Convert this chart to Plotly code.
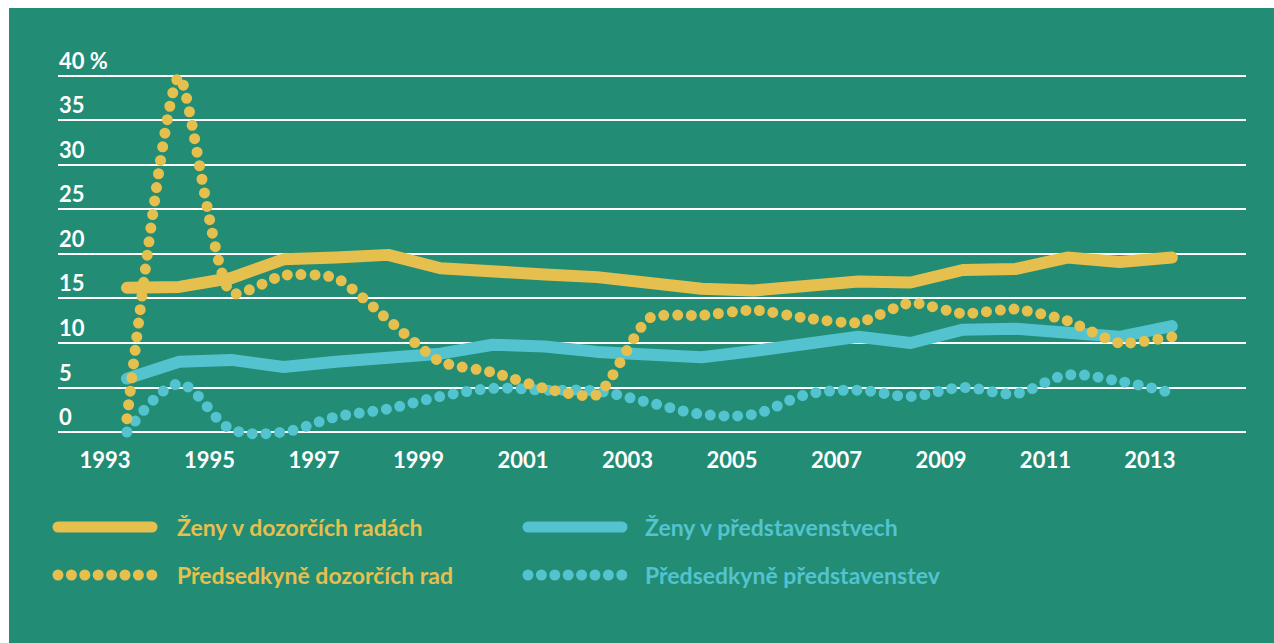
import plotly.graph_objects as go

# ---------------- data ----------------
years = list(range(1993, 2014))
zeny_dozorci = [16.2, 16.3, 17.3, 19.4, 19.6, 19.9, 18.4, 17.9, 17.7, 17.4, 16.8,
                16.1, 15.9, 16.4, 16.9, 16.8, 18.2, 18.3, 19.6, 19.1, 19.6]
zeny_predstav = [6.0, 7.9, 8.1, 7.3, 7.9, 8.4, 8.8, 9.8, 9.6, 9.0, 8.7,
                 8.4, 9.1, 9.8, 10.7, 10.0, 11.5, 11.6, 11.2, 10.7, 11.9]
predsedkyne_dozorci = [1.5, 39.9, 15.6, 17.6, 17.3, 12.6, 7.9, 6.7, 4.9, 4.2, 12.8,
                       13.1, 13.7, 12.8, 12.3, 14.5, 13.3, 13.8, 12.5, 10.0, 10.7]
predsedkyne_predstav = [0.0, 5.4, 0.3, 0.0, 1.7, 2.6, 4.0, 4.9, 4.7, 4.6, 3.3,
                        2.0, 2.0, 4.2, 4.7, 4.0, 5.0, 4.3, 6.4, 5.7, 4.4]
x_label_years = list(range(1993, 2014, 2))
y_ticks = [0, 5, 10, 15, 20, 25, 30, 35, 40]
y_tick_labels = ["0", "5", "10", "15", "20", "25", "30", "35", "40 %"]
legend_names = ["Ženy v dozorčích radách", "Předsedkyně dozorčích rad",
                "Ženy v představenstvech", "Předsedkyně představenstev"]

# ---------------- style ----------------
W, H = 1274, 643
GREEN = "#228C75"
YELLOW = "#E5C04F"
CYAN = "#53C3CF"
FONT = "Lato"
LABEL_OFFSET = 0.42  # year labels sit slightly left of the yearly points
DOT_DASH = "0px,13.7px"


def fx(p):
    return p / W


def fy(p):
    return 1 - p / H


fig = go.Figure()
fig.add_trace(go.Scatter(x=years, y=zeny_dozorci, mode="lines", name=legend_names[0],
                         line=dict(color=YELLOW, width=12)))
fig.add_trace(go.Scatter(x=years, y=zeny_predstav, mode="lines", name=legend_names[2],
                         line=dict(color=CYAN, width=12)))
fig.add_trace(go.Scatter(x=years, y=predsedkyne_predstav, mode="lines", name=legend_names[3],
                         line=dict(color=CYAN, width=11, dash=DOT_DASH, shape="spline", smoothing=1.0)))
fig.add_trace(go.Scatter(x=years, y=predsedkyne_dozorci, mode="lines", name=legend_names[1],
                         line=dict(color=YELLOW, width=11, dash=DOT_DASH, shape="spline", smoothing=0.6)))

annotations = []
for v, t in zip(y_ticks, y_tick_labels):
    annotations.append(dict(x=fx(57), xref="paper", xanchor="left", y=v, yref="y",
                            yanchor="bottom", yshift=0, text=t, showarrow=False,
                            font=dict(family=FONT, size=22, color="white", weight="bold")))

shapes = [
    dict(type="rect", xref="paper", yref="paper", x0=0, x1=1, y0=fy(8), y1=1,
         fillcolor="white", line=dict(width=0)),
    dict(type="rect", xref="paper", yref="paper", x0=0, x1=fx(9), y0=0, y1=1,
         fillcolor="white", line=dict(width=0)),
]

legend_rows = [(legend_names[0], YELLOW, "solid", 58, 175, 527),
               (legend_names[1], YELLOW, "dot", 58, 175, 575),
               (legend_names[2], CYAN, "solid", 528, 643, 527),
               (legend_names[3], CYAN, "dot", 528, 643, 575)]
for name, col, kind, lx, tx, py in legend_rows:
    if kind == "solid":
        shapes.append(dict(type="line", xref="paper", yref="paper", x0=fx(lx), x1=fx(lx + 94),
                           y0=fy(py), y1=fy(py), line=dict(color=col, width=11)))
    else:
        shapes.append(dict(type="line", xref="paper", yref="paper", x0=fx(lx), x1=fx(lx + 95),
                           y0=fy(py), y1=fy(py), line=dict(color=col, width=11, dash="0px,13.4px")))
    annotations.append(dict(x=fx(tx), xref="paper", xanchor="left", y=fy(py), yref="paper",
                            yanchor="middle", text=name, showarrow=False,
                            font=dict(family=FONT, size=23, color=col, weight="bold")))

fig.update_layout(
    width=W, height=H,
    margin=dict(l=0, r=0, t=0, b=0),
    paper_bgcolor=GREEN, plot_bgcolor="rgba(0,0,0,0)",
    showlegend=False,
    shapes=shapes,
    annotations=annotations,
    xaxis=dict(domain=[fx(58), fx(1246)], range=[1991.68, 2014.42],
               tickvals=[y - LABEL_OFFSET for y in x_label_years],
               ticktext=[str(y) for y in x_label_years],
               showgrid=False, zeroline=False, showline=False, ticks="",
               tickfont=dict(family=FONT, size=22, color="white", weight="bold")),
    yaxis=dict(domain=[fy(445), fy(66)], range=[-1.46, 41.12],
               tickvals=y_ticks, showticklabels=False, showgrid=True,
               gridcolor="white", gridwidth=2, zeroline=False, showline=False, ticks=""),
    hovermode=False,
)

post = ("var s=document.createElement('style');"
        "s.innerHTML='html,body{margin:0;padding:0;overflow:hidden;}"
        ".js-line, .shapelayer path{stroke-linecap:round !important;"
        "stroke-linejoin:round !important;}';"
        "document.head.appendChild(s);")
fig.write_html("out.html", post_script=post, config={"displayModeBar": False})
